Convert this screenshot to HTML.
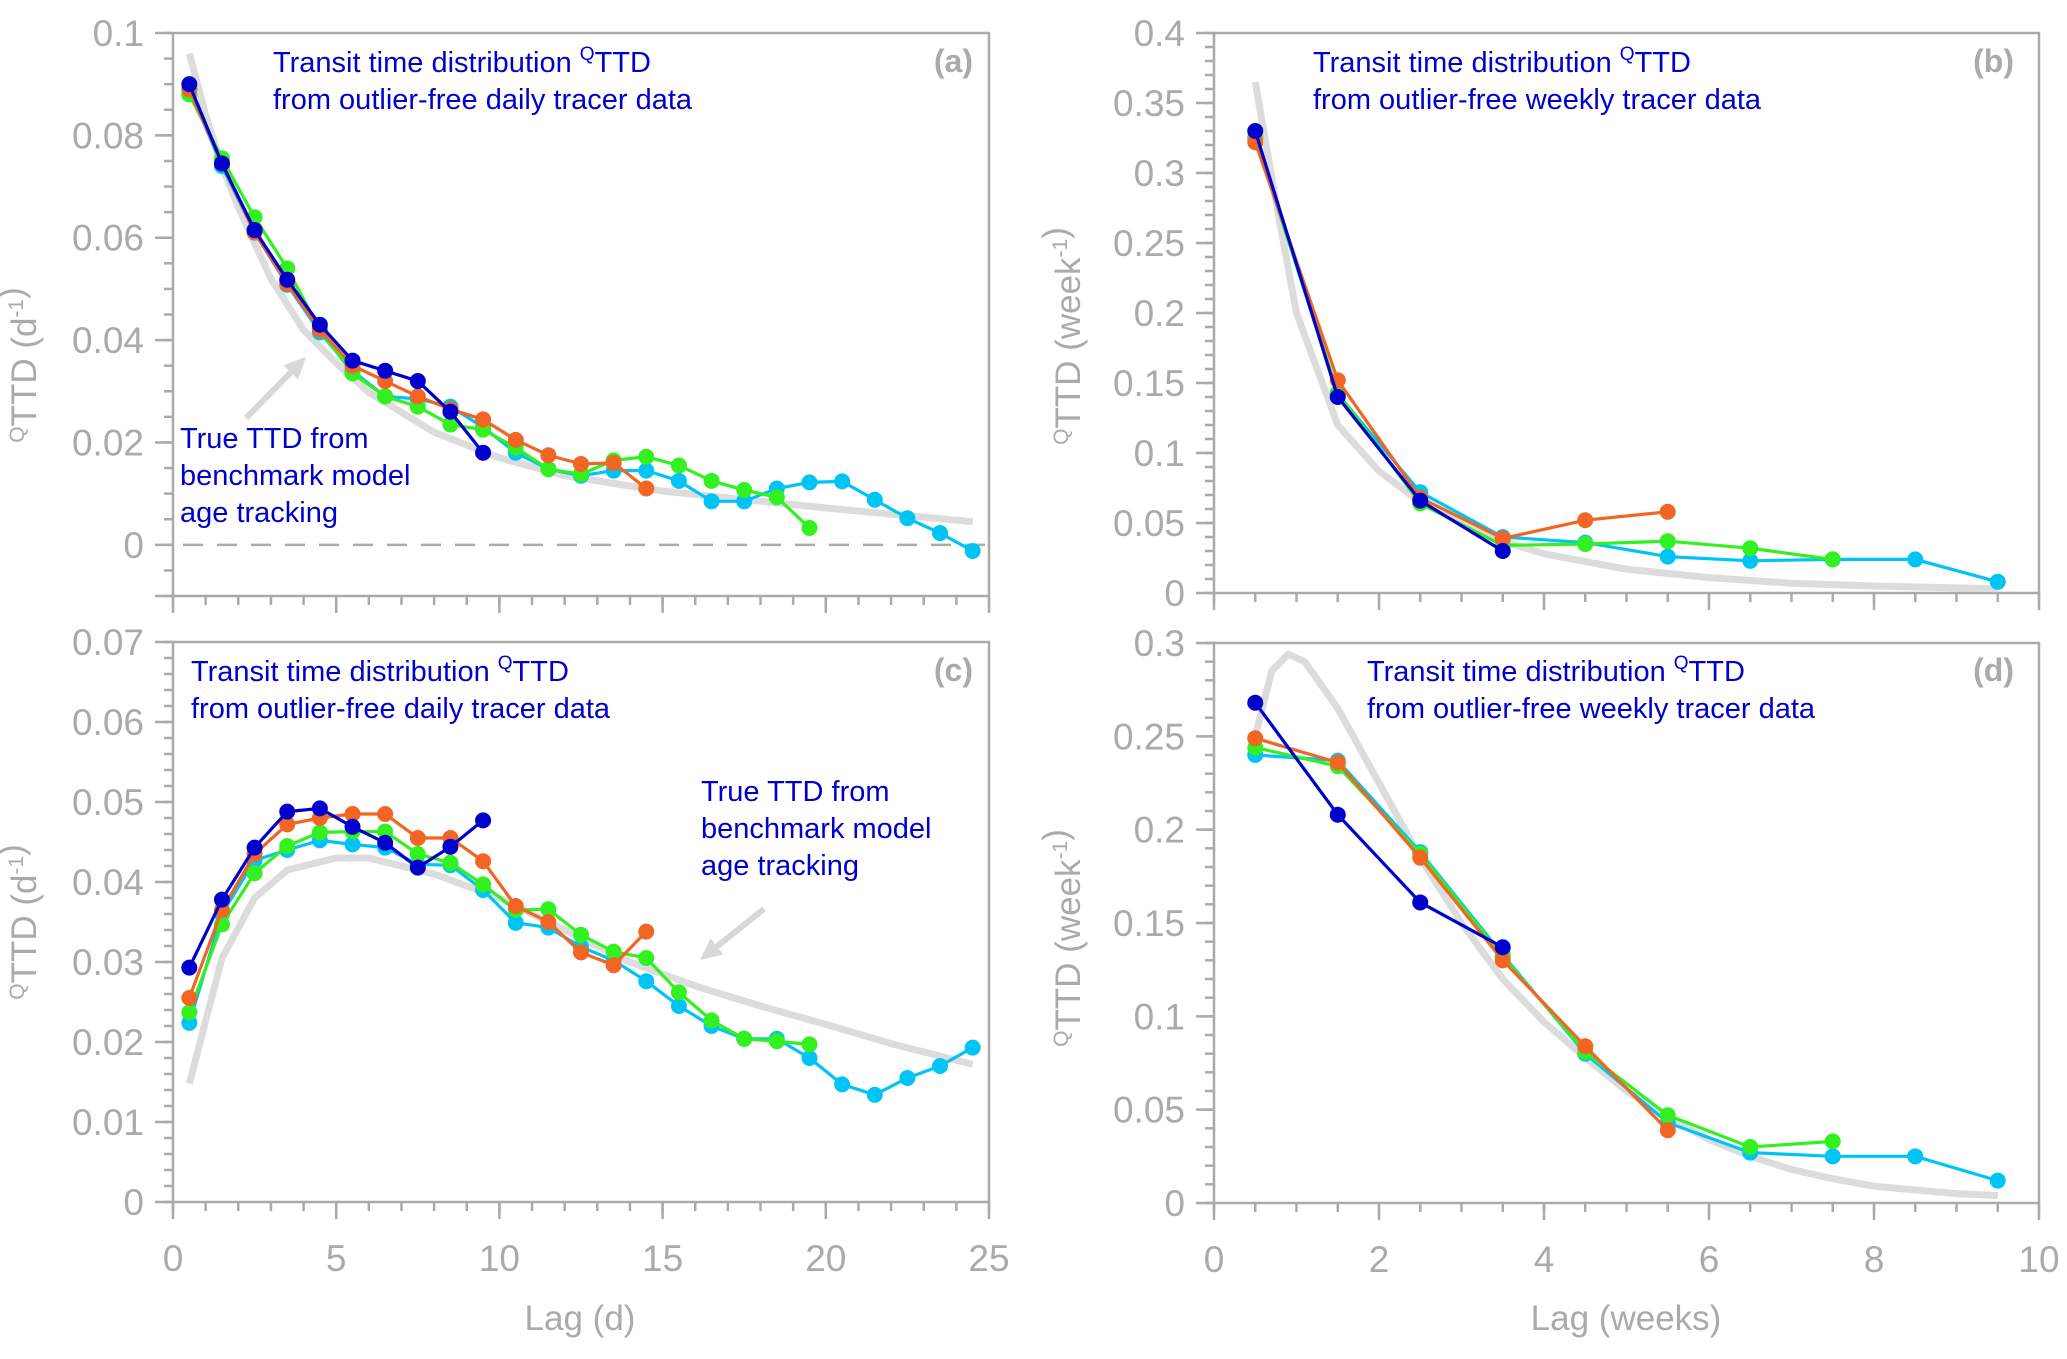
<!DOCTYPE html>
<html><head><meta charset="utf-8"><style>
body{margin:0;background:#fff}
svg{display:block;font-family:"Liberation Sans",sans-serif}
</style></head><body>
<svg id="fig" width="2067" height="1359" viewBox="0 0 2067 1359" xmlns="http://www.w3.org/2000/svg"></svg>
<script>
// ---- data ----
const lagA = [0.5,1.5,2.5,3.5,4.5,5.5,6.5,7.5,8.5,9.5,10.5,11.5,12.5,13.5,14.5,15.5,16.5,17.5,18.5,19.5,20.5,21.5,22.5,23.5,24.5];
const lagB = [0.5,1.5,2.5,3.5,4.5,5.5,6.5,7.5,8.5,9.5];
const aBlue = [0.090,0.0745,0.0615,0.0518,0.043,0.036,0.034,0.032,0.026,0.018];
const aOrange = [0.089,0.0745,0.061,0.051,0.042,0.035,0.032,0.029,0.0265,0.0245,0.0205,0.0175,0.0158,0.016,0.011];
const aGreen = [0.088,0.0755,0.064,0.054,0.042,0.0335,0.029,0.027,0.0235,0.0225,0.019,0.0148,0.0138,0.0165,0.0172,0.0155,0.0125,0.0107,0.0093,0.0033];
const aCyan = [0.089,0.074,0.061,0.0508,0.0415,0.034,0.029,0.0285,0.027,0.023,0.018,0.0148,0.0135,0.0145,0.0145,0.0125,0.0085,0.0085,0.011,0.0122,0.0124,0.0088,0.0052,0.0023,-0.0012];
const aTrueX = [0.5,1,1.5,2,3,4,5,6,8,10,12,15,20,24.5];
const aTrueY = [0.096,0.084,0.074,0.066,0.052,0.042,0.0355,0.0298,0.022,0.017,0.0135,0.0105,0.0072,0.0045];
const cBlue = [0.0293,0.0378,0.0443,0.0488,0.0492,0.0469,0.0449,0.0418,0.0444,0.0477];
const cOrange = [0.0255,0.0365,0.0435,0.0472,0.048,0.0485,0.0485,0.0455,0.0455,0.0426,0.037,0.035,0.0312,0.0296,0.0338];
const cGreen = [0.0237,0.0347,0.0411,0.0445,0.0462,0.0463,0.0463,0.0435,0.0424,0.0397,0.0365,0.0366,0.0334,0.0313,0.0305,0.0262,0.0227,0.0204,0.0201,0.0197];
const cCyan = [0.0224,0.036,0.0427,0.044,0.0452,0.0447,0.0443,0.0422,0.0421,0.039,0.0349,0.0343,0.0319,0.0302,0.0276,0.0245,0.022,0.0204,0.0204,0.018,0.0147,0.0134,0.0155,0.017,0.0193];
const cTrueX = [0.5,1.5,2.5,3.5,5,6,8,10,12,14,16,18,20,22,24.5];
const cTrueY = [0.0148,0.0305,0.038,0.0415,0.043,0.043,0.041,0.038,0.034,0.030,0.027,0.0245,0.0222,0.0198,0.0172];
const bBlue = [0.33,0.14,0.066,0.030];
const bOrange = [0.322,0.152,0.068,0.039,0.052,0.058];
const bGreen = [0.325,0.143,0.064,0.034,0.035,0.037,0.032,0.024];
const bCyan = [0.325,0.142,0.072,0.04,0.036,0.026,0.023,0.024,0.024,0.008];
const bTrueX = [0.5,0.75,1,1.5,2,2.5,3,3.5,4,5,6,7,8,9.5];
const bTrueY = [0.365,0.28,0.2,0.12,0.087,0.065,0.05,0.037,0.028,0.017,0.011,0.007,0.005,0.003];
const dBlue = [0.268,0.208,0.161,0.137];
const dOrange = [0.249,0.236,0.185,0.130,0.084,0.039];
const dGreen = [0.244,0.234,0.187,0.132,0.081,0.047,0.030,0.033];
const dCyan = [0.240,0.237,0.188,0.133,0.080,0.043,0.027,0.025,0.025,0.012];
const dTrueX = [0.5,0.7,0.9,1.1,1.5,2,2.5,3,3.5,4,4.5,5,5.5,6,6.5,7,7.5,8,9,9.5];
const dTrueY = [0.25,0.285,0.294,0.29,0.265,0.225,0.185,0.15,0.12,0.097,0.078,0.06,0.046,0.034,0.025,0.018,0.013,0.009,0.005,0.004];
const ticksA = ["-0.01","0","0.02","0.04","0.06","0.08","0.1"];
const ticksC = ["0","0.01","0.02","0.03","0.04","0.05","0.06","0.07"];
const ticksB = ["0","0.05","0.1","0.15","0.2","0.25","0.3","0.35","0.4"];
const ticksD = ["0","0.05","0.1","0.15","0.2","0.25","0.3"];
const xTicksDays = ["0","5","10","15","20","25"];
const xTicksWeeks = ["0","2","4","6","8","10"];

const NS="http://www.w3.org/2000/svg";
const svg=document.getElementById('fig');
const GRAY="#aaaaaa", BLUE="#0000cc";
function mk(tag,attrs,parent){const e=document.createElementNS(NS,tag);for(const k in attrs)e.setAttribute(k,attrs[k]);(parent||svg).appendChild(e);return e;}

function panel(p){
  const g=mk('g',{});
  
  
  const sx=v=>p.L+(v-p.x0)/(p.x1-p.x0)*(p.R-p.L);
  const sy=v=>p.B-(v-p.y0)/(p.y1-p.y0)*(p.B-p.T);
  // frame
  const fr=mk('rect',{x:p.L,y:p.T,width:p.R-p.L,height:p.B-p.T,fill:'none',stroke:GRAY,'stroke-width':2.5},g);
  
  
  // y minor ticks
  const nMin=Math.round((p.y1-p.y0)/p.yMinor);
  for(let i=0;i<=nMin;i++){const v=p.y0+i*p.yMinor;mk('line',{x1:p.L-9,x2:p.L,y1:sy(v),y2:sy(v),stroke:GRAY,'stroke-width':2.5},g);}
  // y major ticks + labels
  p.yTicks.forEach(t=>{const v=parseFloat(t);const y=sy(v);
    mk('line',{x1:p.L-18,x2:p.L,y1:y,y2:y,stroke:GRAY,'stroke-width':2.5},g);
    if(v<p.y0-1e-9||v<p.yLabelMin-1e-9)return;
    const tx=mk('text',{x:p.L-29,y:y+13,'text-anchor':'end','font-size':37,fill:GRAY},g);tx.textContent=t;
    
    
  });
  // x ticks
  const nx=Math.round((p.x1-p.x0)/p.xMinor);
  for(let i=0;i<=nx;i++){const v=p.x0+i*p.xMinor;mk('line',{x1:sx(v),x2:sx(v),y1:p.B,y2:p.B+9,stroke:GRAY,'stroke-width':2.5},g);}
  p.xTicks.forEach(t=>{const v=parseFloat(t);const x=sx(v);
    mk('line',{x1:x,x2:x,y1:p.B,y2:p.B+17,stroke:GRAY,'stroke-width':2.5},g);
    if(p.showX){const tx=mk('text',{x:x,y:p.B+69,'text-anchor':'middle','font-size':37,fill:GRAY},g);tx.textContent=t;
      
      }
  });
  if(p.zeroLine){const z=mk('line',{x1:p.L+10,x2:p.R,y1:sy(0),y2:sy(0),stroke:GRAY,'stroke-width':2.5,'stroke-dasharray':'20,14'},g);
    
    }
  // true curve
  const tp=mk('polyline',{points:p.trueX.map((x,i)=>sx(x)+','+sy(p.trueY[i])).join(' '),fill:'none',stroke:'#dcdcdc','stroke-width':7,'stroke-linejoin':'round'},g);
  
  
  // series
  p.series.forEach(s=>{
    const sg=mk('g',{},g);
    
    
    mk('polyline',{points:s.v.map((v,i)=>sx(p.lag[i])+','+sy(v)).join(' '),fill:'none',stroke:s.c,'stroke-width':3.2},sg);
    s.v.forEach((v,i)=>{const c=mk('circle',{cx:sx(p.lag[i]),cy:sy(v),r:8,fill:s.c},sg);
      
      });
  });
}
const ser=(b,o,g,c)=>[{name:'cyan',c:'#00c4f5',v:c},{name:'green',c:'#33f020',v:g},{name:'orange',c:'#f26522',v:o},{name:'blue',c:'#0000cc',v:b}];
panel({id:'a',L:173,R:989,T:33,B:596,x0:0,x1:25,y0:-0.01,y1:0.1,yMinor:0.005,xMinor:1,yTicks:ticksA,yLabelMin:0,xTicks:xTicksDays,showX:false,zeroLine:true,lag:lagA,trueX:aTrueX,trueY:aTrueY,series:ser(aBlue,aOrange,aGreen,aCyan)});
panel({id:'c',L:173,R:989,T:642,B:1202,x0:0,x1:25,y0:0,y1:0.07,yMinor:0.002,xMinor:1,yTicks:ticksC,yLabelMin:0,xTicks:xTicksDays,showX:true,lag:lagA,trueX:cTrueX,trueY:cTrueY,series:ser(cBlue,cOrange,cGreen,cCyan)});
panel({id:'b',L:1214,R:2039,T:33,B:593,x0:0,x1:10,y0:0,y1:0.4,yMinor:0.01,xMinor:0.5,yTicks:ticksB,yLabelMin:0,xTicks:xTicksWeeks,showX:false,lag:lagB,trueX:bTrueX,trueY:bTrueY,series:ser(bBlue,bOrange,bGreen,bCyan)});
panel({id:'d',L:1214,R:2039,T:643,B:1203,x0:0,x1:10,y0:0,y1:0.3,yMinor:0.01,xMinor:0.5,yTicks:ticksD,yLabelMin:0,xTicks:xTicksWeeks,showX:true,lag:lagB,trueX:dTrueX,trueY:dTrueY,series:ser(dBlue,dOrange,dGreen,dCyan)});
</script>
<g></g>
<svg width="0" height="0"></svg>
<script>
(function(){
const NS="http://www.w3.org/2000/svg";const svg=document.getElementById('fig');
function t(x,y,html,attrs,name){const e=document.createElementNS(NS,'text');e.setAttribute('x',x);e.setAttribute('y',y);for(const k in attrs)e.setAttribute(k,attrs[k]);e.innerHTML=html;svg.appendChild(e);
 
 return e;}
const blue={'font-size':29,fill:'#0000cc'};
const sup='<tspan dy="-12" font-size="19">Q</tspan><tspan dy="12">TTD</tspan>';
[[273,72,'daily'],[1313,72,'weekly'],[191,681,'daily'],[1367,681,'weekly']].forEach(a=>{
 t(a[0],a[1],'Transit time distribution '+sup,blue,'annotation-title');
 t(a[0],a[1]+37,'from outlier-free '+a[2]+' tracer data',blue,'annotation-subtitle');});
[[973,72,'(a)'],[2014,72,'(b)'],[973,681,'(c)'],[2014,681,'(d)']].forEach(a=>t(a[0],a[1],a[2],{'font-size':32,'font-weight':'bold',fill:'#aaaaaa','text-anchor':'end'},'panel-label'));
['True TTD from','benchmark model','age tracking'].forEach((s,i)=>{t(180,448+i*37,s,blue,'true-ttd-note-a');t(701,801+i*37,s,blue,'true-ttd-note-c');});
function arrow(x1,y1,x2,y2,name){const g=document.createElementNS(NS,'g');svg.appendChild(g);
 
 
 const ang=Math.atan2(y2-y1,x2-x1);const hl=24;
 const l=document.createElementNS(NS,'line');l.setAttribute('x1',x1);l.setAttribute('y1',y1);l.setAttribute('x2',x2-Math.cos(ang)*10);l.setAttribute('y2',y2-Math.sin(ang)*10);l.setAttribute('stroke','#d8d8d8');l.setAttribute('stroke-width',6);g.appendChild(l);
 const p=document.createElementNS(NS,'polygon');
 const a1=ang+2.7,a2=ang-2.7;
 p.setAttribute('points',`${x2},${y2} ${x2+Math.cos(a1)*hl},${y2+Math.sin(a1)*hl} ${x2+Math.cos(a2)*hl},${y2+Math.sin(a2)*hl}`);p.setAttribute('fill','#d8d8d8');g.appendChild(p);}
arrow(246,418,306,357,'arrow-a');arrow(764,909,700,960,'arrow-c');
const yl=(x,y,unit,name)=>t(x,y,'<tspan dy="-12" font-size="21">Q</tspan><tspan dy="12">TTD (</tspan>'+unit+')',{'font-size':35,fill:'#aaaaaa','text-anchor':'middle',transform:`rotate(-90 ${x} ${y})`},name);
yl(36,365,'d<tspan dy="-13" font-size="21">-1</tspan><tspan dy="13"></tspan>','y-axis-title-a');
yl(36,922,'d<tspan dy="-13" font-size="21">-1</tspan><tspan dy="13"></tspan>','y-axis-title-c');
yl(1080,336,'week<tspan dy="-13" font-size="21">-1</tspan><tspan dy="13"></tspan>','y-axis-title-b');
yl(1080,938,'week<tspan dy="-13" font-size="21">-1</tspan><tspan dy="13"></tspan>','y-axis-title-d');
t(580,1330,'Lag (d)',{'font-size':35,fill:'#aaaaaa','text-anchor':'middle'},'x-axis-title-days');
t(1626,1330,'Lag (weeks)',{'font-size':35,fill:'#aaaaaa','text-anchor':'middle'},'x-axis-title-weeks');
})();
</script>
</body></html>
